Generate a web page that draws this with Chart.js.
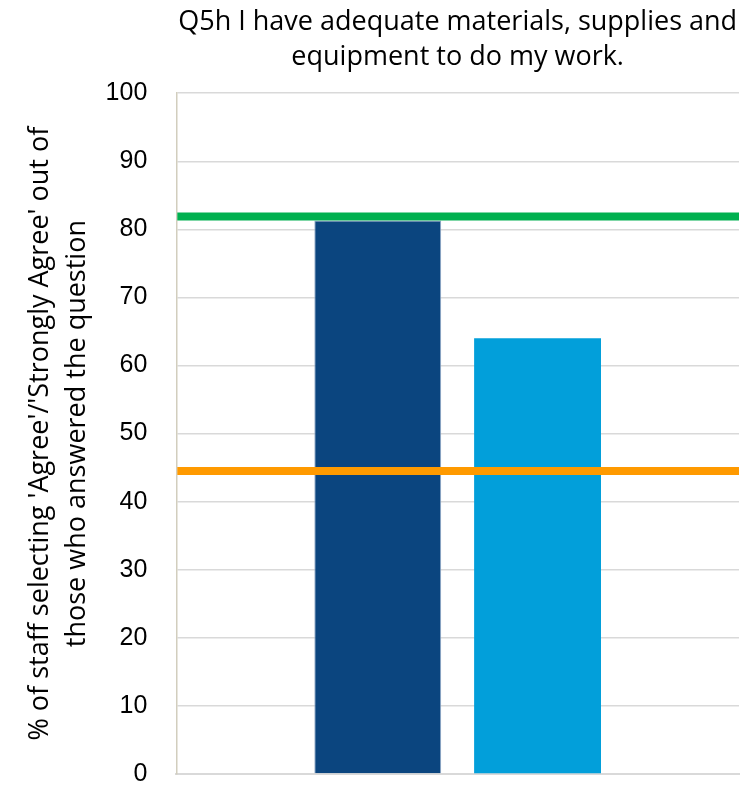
<!DOCTYPE html>
<html>
<head>
<meta charset="utf-8">
<script src="https://cdn.jsdelivr.net/npm/chart.js@4"></script>
<style>
  html, body { margin: 0; padding: 0; background: #fff; }
  #chart { display: block; }
</style>
</head>
<body>
<canvas id="chart" width="749" height="786"></canvas>
<script>
// data
const categories = [""];
const orgValues = [81.3];      // dark blue bar
const compValues = [64.0];     // light blue bar
const refValues = [81.9, 44.5];            // green (best) and orange (worst) lines
const refColors = ["#00B050", "#FF9A00"];
const yTicks = [0, 10, 20, 30, 40, 50, 60, 70, 80, 90, 100];

const titleLines = ["Q5h I have adequate materials, supplies and", "equipment to do my work."];
const yTitle = ["% of staff selecting 'Agree'/'Strongly Agree' out of", "those who answered the question"];

// horizontal reference lines, placed through the y scale
const refLines = {
  id: "refLines",
  afterDatasetsDraw(chart) {
    const { ctx, chartArea, scales } = chart;
    ctx.save();
    ctx.lineWidth = 8;
    refValues.forEach((v, i) => {
      const y = scales.y.getPixelForValue(v);
      ctx.strokeStyle = refColors[i];
      ctx.beginPath();
      ctx.moveTo(chartArea.left + 1, y);
      ctx.lineTo(chartArea.right, y);
      ctx.stroke();
    });
    ctx.restore();
  }
};

new Chart(document.getElementById("chart"), {
  type: "bar",
  data: {
    labels: categories,
    datasets: [
      { label: "Organisation", data: orgValues, backgroundColor: "#0B457F", borderColor: "#8FA8C6", borderWidth: 1 },
      { label: "Average", data: compValues, backgroundColor: "#029FDA" }
    ]
  },
  options: {
    responsive: false,
    animation: false,
    categoryPercentage: 0.568,
    barPercentage: 0.794,
    layout: { padding: { left: 21, right: 10, top: 0, bottom: 12 } },
    plugins: {
      legend: { display: false },
      tooltip: { enabled: false },
      title: {
        display: true, text: titleLines, fullSize: false, color: "#000",
        font: { family: "Open Sans", size: 27, weight: "normal", lineHeight: 1.3 },
        padding: { top: 5, bottom: 18 }
      }
    },
    scales: {
      x: {
        grid: { display: false, drawTicks: false },
        ticks: { display: false },
        border: { color: "#D9D9D9", width: 2 }
      },
      y: {
        min: 0, max: 100,
        afterBuildTicks: (s) => { s.ticks = yTicks.map(v => ({ value: v })); },
        grid: { color: "#D9D9D9", lineWidth: 1.5, drawTicks: true, tickLength: 22, tickColor: "rgba(0,0,0,0)" },
        border: { color: "#D2CEBE", width: 1.5 },
        ticks: { color: "#000", padding: 7, font: { family: "Liberation Sans", size: 25, lineHeight: 0.3 } },
        title: {
          display: true, text: yTitle, color: "#000",
          font: { family: "Open Sans", size: 27, lineHeight: 1.4 },
          padding: { top: 0, bottom: 2 }
        }
      }
    }
  },
  plugins: [refLines]
});
</script>
</body>
</html>
